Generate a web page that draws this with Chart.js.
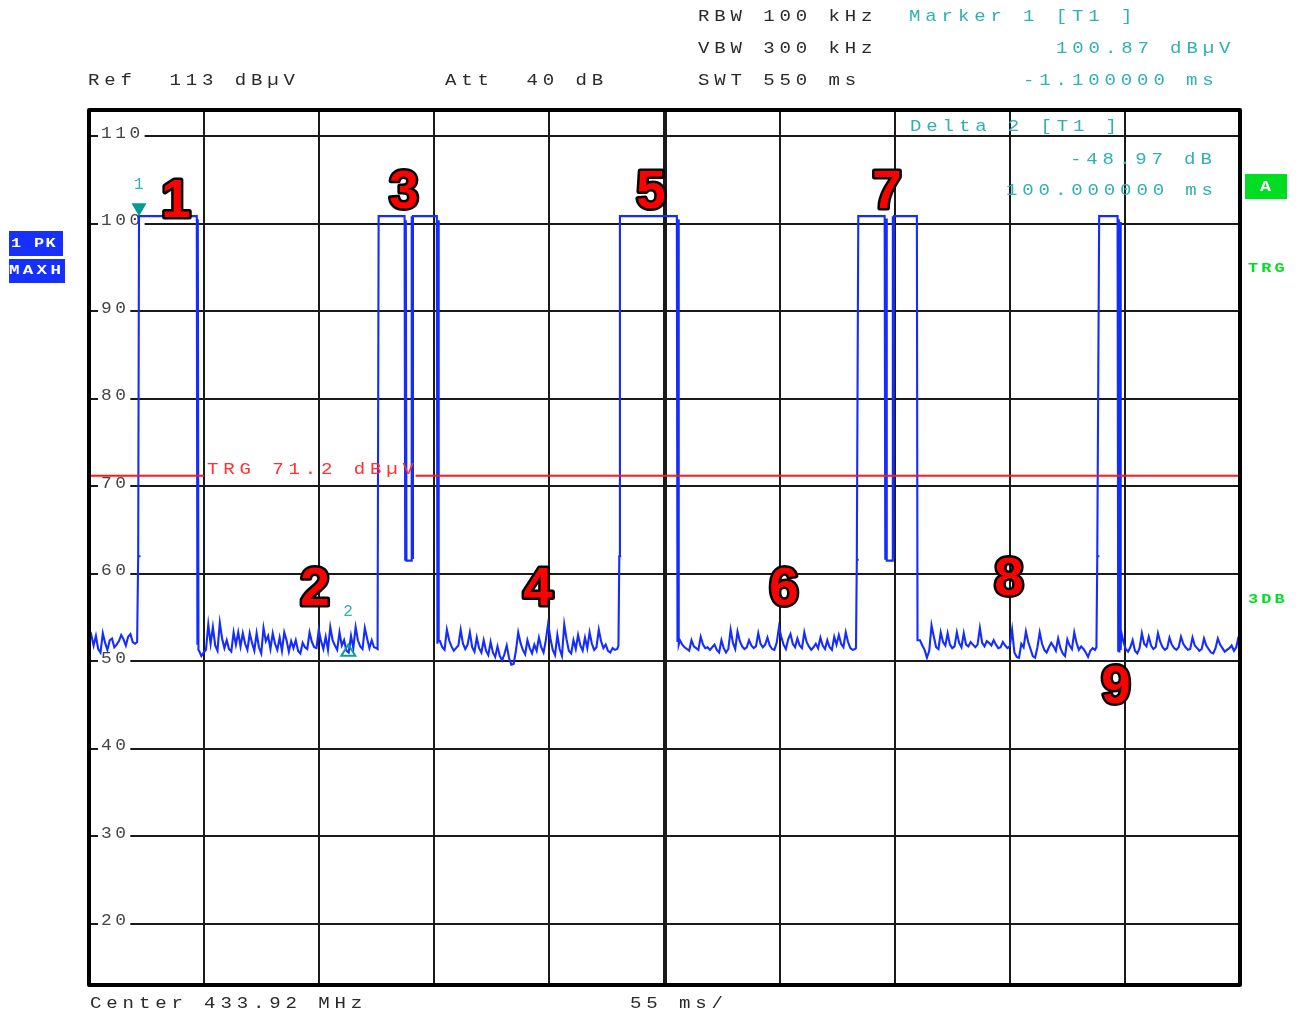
<!DOCTYPE html>
<html><head><meta charset="utf-8">
<script src="https://cdn.jsdelivr.net/npm/chart.js@4.4.1/dist/chart.umd.min.js"></script>
<style>html,body{margin:0;padding:0;background:#fff;overflow:hidden}canvas{display:block}</style>
</head><body>
<canvas id="c" width="1298" height="1015" style="width:1298px;height:1015px"></canvas>
<script>
// ---------- data ----------
const sweepStartMs = -25;
const sweepEndMs = 525;
const msPerDiv = 55;
const levelMin = 13;
const levelMax = 113;
const yGridLevels = [20, 30, 40, 50, 60, 70, 80, 90, 100, 110];
const trgLevel = 71.2;

const noiseStepMs = 1.1;
const noiseStartMs = [-25.0, 27.6, 142.7, 257.4, 372.1, 468.2];
const noiseA = [52.3,53.0,51.8,52.9,51.4,51.0,53.2,52.1,51.3,52.4,52.6,51.6,51.9,52.3,53.0,52.5,51.8,52.8,53.1,52.2,52.0];
const noiseB = [51.2,50.6,51.0,51.3,54.2,52.0,53.9,51.8,51.2,54.4,52.6,51.5,52.4,51.4,51.1,53.3,51.9,53.3,51.7,53.2,
  52.0,51.3,53.2,52.1,51.2,53.2,51.6,50.9,53.8,52.3,52.9,51.4,53.2,52.0,51.3,52.7,51.2,53.3,52.4,51.1,
  52.3,51.5,52.4,51.2,50.9,52.1,51.6,51.4,53.3,52.2,51.6,51.5,53.6,52.3,51.4,52.8,51.3,53.9,52.4,51.8,
  51.3,53.3,51.8,52.4,51.2,51.0,52.9,51.5,53.9,52.4,51.7,51.4,53.8,52.6,51.5,52.4,51.6,51.5];
const noiseC = [52.3,51.6,51.3,53.6,52.4,51.7,51.2,51.5,51.8,53.6,52.0,51.4,51.9,53.3,51.6,51.1,52.7,51.5,51.0,52.4,
  51.2,50.7,52.2,51.0,50.5,51.7,50.6,50.1,50.8,51.8,50.4,49.6,49.7,51.2,53.3,52.1,51.3,50.8,52.4,51.5,
  50.9,51.9,51.2,52.7,51.6,51.0,52.4,54.3,52.6,51.3,50.7,53.0,51.4,50.6,54.2,52.5,51.2,50.9,52.4,51.4,
  53.0,51.8,51.2,52.7,51.5,53.3,52.0,51.3,51.6,53.6,52.3,51.5,51.9,51.2,51.0,51.5,51.3,51.4];
const noiseD = [52.4,51.9,51.6,51.4,51.2,52.4,51.7,51.5,51.3,52.8,51.9,51.5,51.6,51.3,51.6,51.9,51.3,51.0,52.4,51.5,
  51.0,51.4,53.6,52.1,51.4,53.4,52.3,51.7,51.4,51.6,52.4,51.8,51.5,51.7,53.2,52.0,51.6,51.9,52.7,51.8,
  51.4,51.3,52.1,53.9,52.8,51.9,51.4,52.5,53.1,52.0,51.6,52.6,51.8,51.5,53.3,52.2,51.7,51.3,51.6,52.0,
  51.5,52.7,51.8,51.4,52.4,51.6,51.3,52.8,51.9,53.0,52.0,51.6,53.3,52.2,51.5,51.3,51.4];
const noiseE = [52.4,51.8,51.3,50.4,51.2,54.1,52.8,51.6,51.4,53.3,52.2,51.8,53.2,51.9,51.5,51.7,53.3,52.1,51.6,53.2,
  51.9,51.7,52.2,51.9,51.6,51.9,53.8,52.1,51.7,52.3,52.1,51.8,52.4,51.9,51.5,51.6,52.2,51.8,51.5,51.7,
  53.6,51.0,50.5,50.4,52.0,51.6,53.4,52.2,51.4,50.6,50.4,51.6,53.3,52.0,51.3,51.0,51.6,52.1,51.7,51.2,
  52.6,51.5,50.9,50.6,52.5,51.8,51.4,53.3,52.1,51.3,51.7,51.4,51.0,50.5,51.2,51.5,51.3];
const noiseF = [53.4,52.2,51.4,51.1,51.6,52.4,51.2,50.9,51.5,53.2,52.0,51.7,52.8,51.8,51.4,51.6,53.2,52.2,51.6,51.3,
  51.5,52.7,51.9,51.5,51.3,51.6,52.8,52.0,51.6,51.3,51.4,52.7,51.8,51.5,51.2,51.4,52.6,51.8,51.4,51.0,
  50.9,51.5,52.6,51.9,51.5,51.1,51.3,51.5,51.8,51.2,51.6,52.8];

const pulse1Times  = [-2.0, -1.5, -0.4, -1.5, -1.1, 26.5, 26.8, 27.0, 27.3];
const pulse1Levels = [52.2, 62.0, 62.0, 62.0, 100.87, 100.87, 52.0, 100.5, 51.3];
const pulse3Times  = [112.9, 113.4, 125.8, 126.1, 126.4, 126.7, 128.9, 129.2, 129.5, 129.8, 141.2, 141.5, 141.8, 142.1];
const pulse3Levels = [51.4, 100.87, 100.87, 61.6, 100.4, 61.5, 61.5, 100.87, 61.8, 100.87, 100.87, 52.0, 100.4, 52.3];
const pulse5Times  = [228.0, 228.4, 229.3, 228.4, 228.7, 255.9, 256.2, 256.5, 256.8];
const pulse5Levels = [51.8, 62.0, 62.0, 62.0, 100.87, 100.87, 52.2, 100.5, 51.9];
const pulse7Times  = [341.5, 341.9, 342.8, 341.9, 342.6, 355.2, 355.5, 355.9, 356.2, 358.8, 359.1, 359.4, 359.7, 370.6, 370.9];
const pulse7Levels = [51.5, 61.6, 61.6, 61.6, 100.87, 100.87, 61.6, 100.6, 61.5, 61.5, 100.87, 61.8, 100.87, 100.87, 52.4];
const pulse9Times  = [456.4, 456.8, 457.8, 456.8, 457.7, 466.5, 466.8, 467.1, 467.4, 467.7, 468.0];
const pulse9Levels = [51.6, 62.0, 62.0, 62.0, 100.87, 100.87, 51.2, 100.5, 51.0, 100.2, 51.3];

const markerTimes  = [-1.1, 98.9];
const markerLevels = [100.87, 51.9];

const calloutTexts  = ['1','2','3','4','5','6','7','8','9'];
const calloutTimes  = [16.6, 83.0, 125.5, 189.6, 243.6, 307.1, 356.3, 414.6, 465.8];
const calloutLevels = [102.9, 58.6, 104.0, 58.6, 104.0, 58.6, 104.0, 59.7, 47.4];

// ---------- build trace ----------
function noisePts(start, arr) { return arr.map((v, i) => ({ x: +(start + i * noiseStepMs).toFixed(2), y: v })); }
function pulsePts(ts, ls) { return ts.map((t, i) => ({ x: t, y: ls[i] })); }
const tracePoints = [].concat(
  noisePts(noiseStartMs[0], noiseA), pulsePts(pulse1Times, pulse1Levels),
  noisePts(noiseStartMs[1], noiseB), pulsePts(pulse3Times, pulse3Levels),
  noisePts(noiseStartMs[2], noiseC), pulsePts(pulse5Times, pulse5Levels),
  noisePts(noiseStartMs[3], noiseD), pulsePts(pulse7Times, pulse7Levels),
  noisePts(noiseStartMs[4], noiseE), pulsePts(pulse9Times, pulse9Levels),
  noisePts(noiseStartMs[5], noiseF)
);
const xGrid = [];
for (let t = sweepStartMs; t <= sweepEndMs + 0.001; t += msPerDiv) xGrid.push(t);

// ---------- drawing helpers ----------
const MONO = '"Liberation Mono", "DejaVu Sans Mono", monospace';
const TEAL = '#30b0b0';
const TXT = '17px ' + MONO;
const TSX = 1.12;
function spaced(ctx, text, x, y, adv, font, color, sx) {
  ctx.save();
  ctx.font = font; ctx.fillStyle = color; ctx.textAlign = 'left'; ctx.textBaseline = 'middle';
  for (let i = 0; i < text.length; i++) {
    const cx = x + i * adv;
    if (sx && sx !== 1) { ctx.save(); ctx.translate(cx, y); ctx.scale(sx, 1); ctx.fillText(text[i], 0, 0); ctx.restore(); }
    else ctx.fillText(text[i], cx, y);
  }
  ctx.restore();
}

const overlay = {
  id: 'overlay',
  beforeDatasetsDraw(chart) {
    const ctx = chart.ctx, ys = chart.scales.y, a = chart.chartArea;
    ctx.save();
    yGridLevels.forEach(v => {
      const py = ys.getPixelForValue(v);
      const s = String(v);
      const x0 = a.left + 12, adv = 14.3;
      const w = (s.length - 1) * adv + 11;
      ctx.fillStyle = '#fff';
      ctx.fillRect(x0 - 3, py - 3, w + 7, 5);
      spaced(ctx, s, x0, py - 3, adv, '17px ' + MONO, '#444', 1.05);
    });
    ctx.restore();
  },
  afterDatasetsDraw(chart) {
    const ctx = chart.ctx, xs = chart.scales.x, ys = chart.scales.y, a = chart.chartArea;
    ctx.save();
    // trigger line + label
    const ty = ys.getPixelForValue(trgLevel);
    const tx0 = a.left + 118, tAdv = 16.3, tText = 'TRG 71.2 dBµV';
    const tx1 = tx0 + (tText.length - 1) * tAdv + 11;
    ctx.strokeStyle = '#ff1a1a'; ctx.lineWidth = 2;
    ctx.beginPath(); ctx.moveTo(a.left, ty); ctx.lineTo(tx0 - 3, ty); ctx.moveTo(tx1 + 2, ty); ctx.lineTo(a.right, ty); ctx.stroke();
    spaced(ctx, tText, tx0, ty - 6, tAdv, TXT, '#ff3030', TSX);

    // marker 1 (filled, pointing down)
    const m1x = xs.getPixelForValue(markerTimes[0]), m1y = ys.getPixelForValue(markerLevels[0]);
    ctx.fillStyle = '#009c9c';
    ctx.beginPath(); ctx.moveTo(m1x, m1y); ctx.lineTo(m1x - 7.5, m1y - 13); ctx.lineTo(m1x + 7.5, m1y - 13); ctx.closePath(); ctx.fill();
    spaced(ctx, '1', m1x - 5, m1y - 31, 10, '16px ' + MONO, TEAL);
    // marker 2 (outline, pointing up)
    const m2x = xs.getPixelForValue(markerTimes[1]), m2y = ys.getPixelForValue(markerLevels[1]);
    ctx.strokeStyle = '#109c9c'; ctx.lineWidth = 2;
    ctx.beginPath(); ctx.moveTo(m2x, m2y); ctx.lineTo(m2x - 7, m2y + 11); ctx.lineTo(m2x + 7, m2y + 11); ctx.closePath(); ctx.stroke();
    spaced(ctx, '2', m2x - 5, m2y - 33, 10, '16px ' + MONO, TEAL);

    // big red callouts
    ctx.font = 'bold 53px "Liberation Sans", Arial, sans-serif';
    ctx.textAlign = 'center'; ctx.textBaseline = 'alphabetic';
    ctx.lineJoin = 'round';
    calloutTexts.forEach((t, i) => {
      const px = xs.getPixelForValue(calloutTimes[i]);
      const py = ys.getPixelForValue(calloutLevels[i]) + 19;
      ctx.strokeStyle = '#000'; ctx.lineWidth = 5; ctx.strokeText(t, px, py);
      ctx.fillStyle = '#ff0000'; ctx.fillText(t, px, py);
    });

    // delta marker readout inside plot
    spaced(ctx, 'Delta 2 [T1 ]', 910, 126, 16.3, TXT, TEAL, TSX);
    spaced(ctx, '-48.97 dB', 1070, 159, 16.3, TXT, TEAL, TSX);
    spaced(ctx, '100.000000 ms', 1006, 190, 16.3, TXT, TEAL, TSX);

    // frame
    ctx.strokeStyle = '#000'; ctx.lineWidth = 4;
    ctx.strokeRect(a.left, a.top, a.right - a.left, a.bottom - a.top);

    // header
    const dark = '#2a2a2a';
    spaced(ctx, 'RBW 100 kHz', 698, 16, 16.3, TXT, dark, TSX);
    spaced(ctx, 'VBW 300 kHz', 698, 48, 16.3, TXT, dark, TSX);
    spaced(ctx, 'SWT 550 ms', 698, 80, 16.3, TXT, dark, TSX);
    spaced(ctx, 'Ref  113 dBµV', 88, 80, 16.3, TXT, dark, TSX);
    spaced(ctx, 'Att  40 dB', 445, 80, 16.3, TXT, dark, TSX);
    spaced(ctx, 'Marker 1 [T1 ]', 909, 16, 16.3, TXT, TEAL, TSX);
    spaced(ctx, '100.87 dBµV', 1056, 48, 16.3, TXT, TEAL, TSX);
    spaced(ctx, '-1.100000 ms', 1023, 80, 16.3, TXT, TEAL, TSX);
    // footer
    spaced(ctx, 'Center 433.92 MHz', 90, 1003, 16.3, TXT, dark, TSX);
    spaced(ctx, '55 ms/', 630, 1003, 16.3, TXT, dark, TSX);

    // left trace boxes
    ctx.fillStyle = '#1530ff';
    ctx.fillRect(9, 231, 54, 25);
    ctx.fillRect(9, 259, 56, 24);
    ctx.save(); ctx.beginPath(); ctx.rect(9, 231, 54, 25); ctx.clip();
    spaced(ctx, '1 PK', 11, 244, 11.5, 'bold 13px ' + MONO, '#fff', 1.3);
    ctx.restore();
    spaced(ctx, 'MAXH', 9, 271, 13.8, 'bold 13px ' + MONO, '#fff', 1.35);

    // right side indicators
    ctx.fillStyle = '#00dd22';
    ctx.fillRect(1245, 174, 42, 25);
    spaced(ctx, 'A', 1260, 187, 10, 'bold 14px ' + MONO, '#fff', 1.3);
    spaced(ctx, 'TRG', 1248, 269, 13.3, 'bold 13px ' + MONO, '#00dd22', 1.3);
    spaced(ctx, '3DB', 1248, 600, 13.3, 'bold 13px ' + MONO, '#00dd22', 1.3);
    ctx.restore();
  }
};

new Chart(document.getElementById('c'), {
  type: 'line',
  data: { datasets: [{
    data: tracePoints, borderColor: 'rgb(20,44,255)', borderWidth: 2.1,
    pointRadius: 0, tension: 0, fill: false
  }]},
  options: {
    responsive: false, animation: false, devicePixelRatio: 1,
    layout: { padding: { left: 89, right: 58, top: 110, bottom: 30 } },
    plugins: { legend: { display: false }, tooltip: { enabled: false } },
    scales: {
      x: {
        type: 'linear', min: sweepStartMs, max: sweepEndMs,
        ticks: { display: false },
        grid: { drawTicks: false, color: '#1a1a1a', lineWidth: c => (c.index === 5 ? 4 : 2) },
        border: { display: false },
        afterBuildTicks: s => { s.ticks = xGrid.map(v => ({ value: v })); }
      },
      y: {
        type: 'linear', min: levelMin, max: levelMax,
        ticks: { display: false },
        grid: { drawTicks: false, color: '#1a1a1a', lineWidth: 2 },
        border: { display: false },
        afterBuildTicks: s => { s.ticks = yGridLevels.map(v => ({ value: v })); }
      }
    }
  },
  plugins: [overlay]
});
</script>
</body></html>
